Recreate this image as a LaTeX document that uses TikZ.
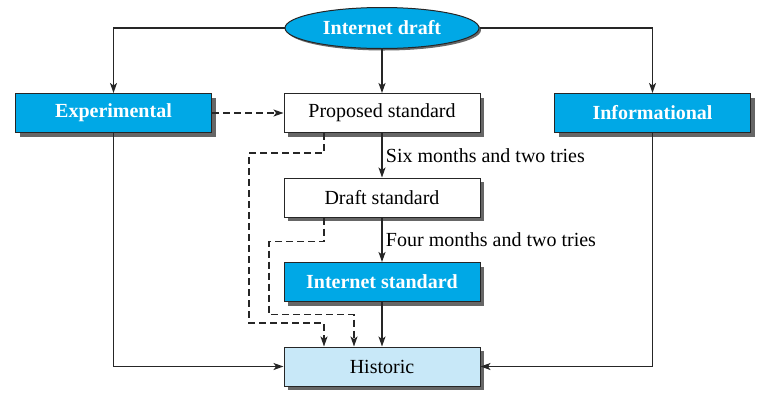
\documentclass[tikz,border=0pt]{standalone}
\usepackage{fontspec}
\setmainfont{Liberation Serif}
\usetikzlibrary{positioning,shapes.geometric,shadows,arrows.meta}
\definecolor{rfcblue}{HTML}{00A8E6}
\definecolor{rfclight}{HTML}{C8E8F8}
\tikzset{
  boxshadow/.style={drop shadow={shadow xshift=4pt, shadow yshift=-4pt, fill=black!60, opacity=1}},
  stage/.style={draw=black!85, line width=1pt, rectangle, minimum width=196pt, minimum height=39pt, inner sep=0pt, fill=white, boxshadow},
  bluestage/.style={stage, fill=rfcblue, text=white, font=\bfseries\fontsize{20}{24}\selectfont},
  flow/.style={line width=1.3pt, draw=black!85, -{Stealth[length=10pt,width=7pt,inset=2.5pt]}},
  altflow/.style={flow, dash pattern=on 7pt off 4pt},
}
\begin{document}
\begin{tikzpicture}[x=1pt,y=-1pt,node distance=44.5pt,font=\fontsize{20}{24}\selectfont]
  \useasboundingbox (0,0) rectangle (767,400);
  \node (draft) [ellipse, draw=black!85, line width=1pt, fill=rfcblue, text=white, font=\bfseries\fontsize{20}{24}\selectfont, minimum width=194pt, minimum height=41pt, inner sep=0pt, drop shadow={shadow xshift=2pt, shadow yshift=-2pt, fill=black!60, opacity=1}] at (382,28) {Internet draft};
  \node (proposed) [stage] at (382,113) {Proposed standard};
  \node (exper) [bluestage] at (113.5,113) {Experimental};
  \node (info) [bluestage] at (652.5,113) {Informational};
  \node (dstd) [stage, below=of proposed] {Draft standard};
  \node (istd) [bluestage, below=of dstd] {Internet standard};
  \node (hist) [stage, fill=rfclight, below=of istd] {Historic};

  \draw[flow] (draft.west) -| (exper.north);
  \draw[flow] (draft.east) -| (info.north);
  \draw[flow] (draft) -- (proposed);
  \draw[altflow] (exper) -- (proposed);
  \draw[flow] (proposed) -- node[right]{Six months and two tries} (dstd);
  \draw[flow] (dstd) -- node[right]{Four months and two tries} (istd);
  \draw[flow] (istd) -- (hist);
  \draw[flow] (exper) |- (hist);
  \draw[flow] (info) |- (hist);
  % dashed routes to historic
  \draw[altflow] ([xshift=-58pt]proposed.south) -- ++(0,20) -- ++(-75,0) -- ++(0,170) -- ++(75,0) -- ([xshift=-58pt]hist.north);
  \draw[altflow] ([xshift=-58pt]dstd.south) -- ++(0,24) -- ++(-55,0) -- ++(0,73) -- ++(85,0) -- ([xshift=-28pt]hist.north);
\end{tikzpicture}
\end{document}
